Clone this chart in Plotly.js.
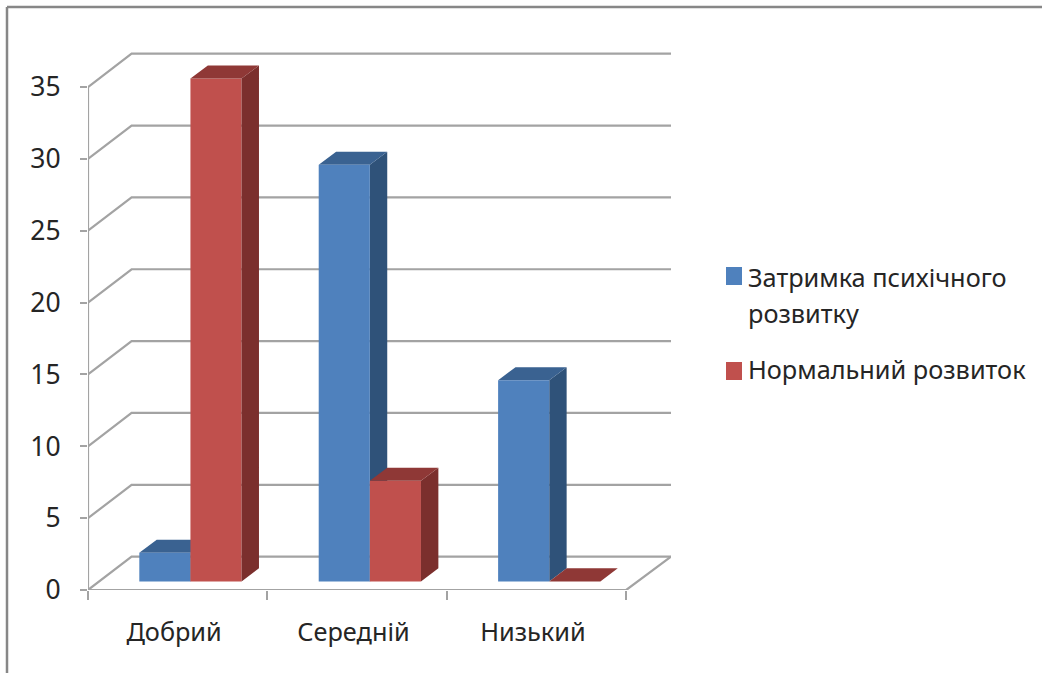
<!DOCTYPE html>
<html><head><meta charset="utf-8">
<script src="https://cdn.plot.ly/plotly-3.0.1.min.js"></script>
<style>html,body{margin:0;padding:0;background:#fff}</style></head>
<body><div id="chart" style="width:1042px;height:673px"></div>
<script>
const categories = ["Добрий", "Середній", "Низький"];
const delayValues = [2, 29, 14];
const normalValues = [35, 7, 0];
const seriesNames = ["Затримка психічного<br>розвитку", "Нормальний розвиток"];
const yTicks = [0, 5, 10, 15, 20, 25, 30, 35];

const W = 1042, H = 673;
const M = {l: 88, r: 371, t: 52, b: 83};
const xMax = 583 / 179.4, yMax = 538 / 14.37;
const wallDX = 0.243, wallDY = 2.32;      // depth of walls
const barDX = 0.097, barDY = 0.905;       // depth of bars
const floorY = 0.6, barW = 0.285;
const xStart0 = 0.286, xStart1 = 0.571;
const GRID = '#a3a3a3', FONT = '"Noto Sans", sans-serif', TXT = '#252525', FS = 25.3;
const px = v => (v - M.l) / (W - M.l - M.r), py = v => 1 - (v - M.t) / (H - M.t - M.b);

function faces(values, start) {
  const side = {x: [], y: []}, top = {x: [], y: []};
  values.forEach((v, i) => {
    const l = i + start, r = l + barW, t = floorY + v;
    side.x.push(r, r + barDX, r + barDX, r, r, null);
    side.y.push(t, t + barDY, floorY + barDY, floorY, t, null);
    top.x.push(l, l + barDX, r + barDX, r, l, null);
    top.y.push(t, t + barDY, t + barDY, t, t, null);
  });
  return {side, top};
}
const poly = (d, color, xa, ya) => ({type: 'scatter', mode: 'lines', x: d.x, y: d.y, xaxis: xa, yaxis: ya,
  fill: 'toself', fillcolor: color, line: {width: 0, color: color}, hoverinfo: 'skip', showlegend: false});

// wall / floor lines
const gx = [], gy = [];
yTicks.forEach(v => { gx.push(0, wallDX, xMax, null); gy.push(v, v + wallDY, v + wallDY, null); });
const frontLines = {type: 'scatter', mode: 'lines', cliponaxis: false, hoverinfo: 'skip', showlegend: false,
  x: [0, 0, null, 0, 3, xMax], y: [yTicks[yTicks.length - 1], 0, null, 0, 0, wallDY], line: {color: GRID, width: 2.2}};
const grid = {type: 'scatter', mode: 'lines', cliponaxis: false, hoverinfo: 'skip', showlegend: false,
  x: gx, y: gy, line: {color: GRID, width: 2.2}};

const fd = faces(delayValues, xStart0), fn = faces(normalValues, xStart1);
const catX = categories.map((c, i) => i);
const traces = [
  grid, frontLines,
  poly(fd.side, '#2f5279', 'x', 'y'), poly(fd.top, '#3a6291', 'x', 'y'),
  {type: 'bar', name: seriesNames[0], x: catX.map(i => i + xStart0 + barW / 2), y: delayValues, base: floorY, width: barW,
   xaxis: 'x2', yaxis: 'y2', marker: {color: '#4f81bd', line: {width: 0}}, showlegend: false},
  {type: 'bar', name: seriesNames[1], x: catX.map(i => i + xStart1 + barW / 2), y: normalValues, base: floorY, width: barW,
   xaxis: 'x2', yaxis: 'y2', marker: {color: '#c0504d', line: {width: 0}}, showlegend: false},
  poly(fn.side, '#7b2f2d', 'x2', 'y2'), poly(fn.top, '#8f3836', 'x2', 'y2')
];

const txt = (s, x, y) => ({text: s, xref: 'paper', yref: 'paper', x: px(x), y: py(y), xanchor: 'left', yanchor: 'middle',
  showarrow: false, align: 'left', font: {family: FONT, size: FS, color: TXT}});
const swatch = (color, x0, x1, y0, y1) => ({type: 'rect', xref: 'paper', yref: 'paper', layer: 'above',
  x0: px(x0), x1: px(x1), y0: py(y0), y1: py(y1), fillcolor: color, line: {width: 0}});
const frame = (x0, y0, x1, y1) => ({type: 'line', xref: 'paper', yref: 'paper', x0: px(x0), y0: py(y0), x1: px(x1), y1: py(y1),
  line: {color: '#878787', width: 2.5}});
const nameLines = seriesNames[0].split('<br>');

const layout = {
  width: W, height: H, margin: M, paper_bgcolor: '#fff', plot_bgcolor: 'rgba(0,0,0,0)',
  barmode: 'overlay', showlegend: false, font: {family: FONT, size: FS, color: TXT},
  xaxis: {range: [0, xMax], tickvals: [0, 1, 2, 3], ticktext: ['', '', '', ''], ticks: 'outside', ticklen: 9, tickwidth: 2, tickcolor: GRID,
    showgrid: false, zeroline: false, showline: false, fixedrange: true},
  yaxis: {range: [0, yMax], tickvals: yTicks, ticks: 'outside', ticklen: 7, tickwidth: 2, tickcolor: GRID,
    ticklabelstandoff: 14, showgrid: false, zeroline: false, showline: false, fixedrange: true,
    tickfont: {family: FONT, size: 26.5, color: TXT}},
  xaxis2: {range: [0, xMax], overlaying: 'x', anchor: 'y2', side: 'bottom', tickvals: catX.map(i => i + 0.48), ticktext: categories,
    ticks: '', ticklabelstandoff: 25, showgrid: false, zeroline: false, showline: false, fixedrange: true,
    tickfont: {family: FONT, size: FS, color: TXT}},
  yaxis2: {range: [0, yMax], overlaying: 'y', anchor: 'x2', visible: false, fixedrange: true},
  shapes: [frame(7, 7, 7, 673), frame(7, 7, 1042, 7),
    swatch('#4f81bd', 726, 742, 267, 285), swatch('#c0504d', 726, 742, 362, 380)],
  annotations: [txt(nameLines[0], 746, 277), txt(nameLines[1], 746, 313), txt(seriesNames[1], 746, 369)]
};
Plotly.newPlot('chart', traces, layout, {displayModeBar: false, responsive: false});
</script></body></html>
